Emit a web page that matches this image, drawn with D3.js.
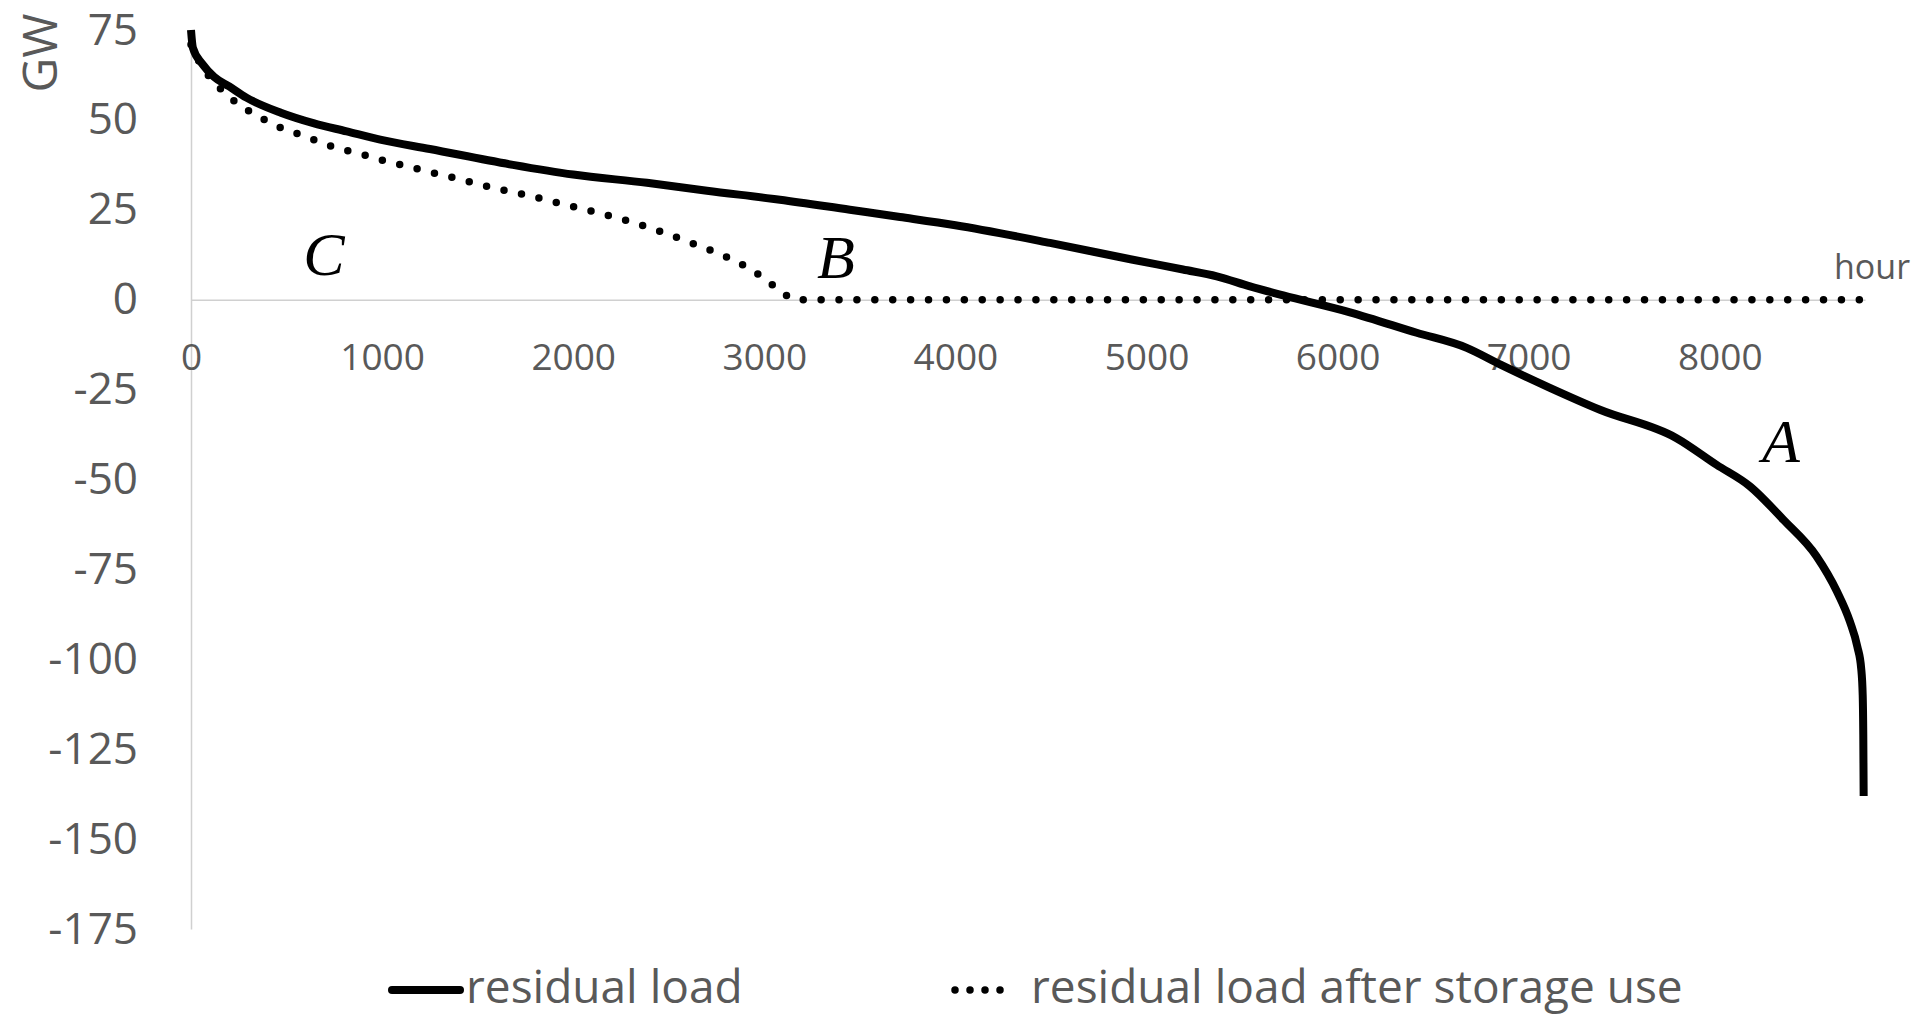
<!DOCTYPE html>
<html>
<head>
<meta charset="utf-8">
<script src="https://cdn.jsdelivr.net/npm/d3@7"></script>
<style>
  html, body { margin: 0; padding: 0; background: #ffffff; }
  svg { display: block; }
</style>
</head>
<body>
<svg id="chart" width="1917" height="1015"></svg>
<script>
// ---------- data ----------
const residualHours = [0, 10, 60, 120, 200, 290, 470, 640, 815, 990, 1250, 1685, 2000, 2386, 2700, 3082, 3448, 3710, 4000, 4495, 4929, 5191, 5368, 5542, 5716, 6065, 6414, 6676, 6850, 7111, 7373, 7774, 7983, 8158, 8333, 8507, 8612, 8681, 8720, 8740, 8748, 8751, 8753];
const residualGW    = [75, 70, 65.5, 62, 59.3, 56.2, 52, 49.1, 46.8, 44.5, 41.9, 37.5, 34.8, 32.5, 30.3, 27.8, 25, 23, 20.7, 15.8, 11.1, 8.4, 6.5, 3.7, 1.2, -3.5, -9.2, -13.4, -18, -24.5, -30.6, -38.5, -45.9, -51.9, -61.2, -71.4, -81, -89.5, -96.5, -102.5, -110, -121, -138];

const storageHours = [0, 56, 112, 169, 235, 305, 382, 460, 544, 628, 710, 797, 884, 972, 1059, 1146, 1235, 1413, 1591, 1764, 1942, 2119, 2292, 2464, 2627, 2798, 2951, 3017, 3090, 3156, 8760];
const storageGW    = [71, 64.9, 61, 57.9, 54.9, 52.4, 50.1, 48, 46.4, 44.8, 43.1, 41.7, 40.6, 39.2, 38, 36.9, 35.7, 33.4, 31, 29, 26.6, 24.3, 21.8, 18.8, 15.6, 12, 7.7, 5.1, 2.3, 0, 0];

const xTicks = [0, 1000, 2000, 3000, 4000, 5000, 6000, 7000, 8000];
const yTicks = [75, 50, 25, 0, -25, -50, -75, -100, -125, -150, -175];

const seriesNames = ["residual load", "residual load after storage use"];
const regionLabels = ["A", "B", "C"];
const regionHours = [8320, 3375, 696];
const regionGW = [-45, 6, 7];

// ---------- setup ----------
const svg = d3.select("#chart");
const font = "'Open Sans', 'Noto Sans', sans-serif";
const grey = "#595959";
const axisGrey = "#d0d0d0";
const fmt = d => String(d);   // plain hyphen-minus like the reference

svg.append("rect").attr("width", 1917).attr("height", 1015).attr("fill", "#fff");

const x = d3.scaleLinear().domain([0, 8760]).range([191, 1865]);
const y = d3.scaleLinear().domain([-175, 75]).range([929, 30]);

// y axis
const yAxis = svg.append("g")
  .attr("transform", `translate(${x(0)},0)`)
  .call(d3.axisLeft(y).tickValues(yTicks).tickSize(0).tickSizeOuter(0).tickPadding(53).tickFormat(fmt));
yAxis.select(".domain").attr("stroke", axisGrey).attr("stroke-width", 1.5);
yAxis.selectAll("text").attr("font-family", font).attr("font-size", 44).attr("fill", grey);

// x axis along zero line
const xAxis = svg.append("g")
  .attr("transform", `translate(0,${y(0)})`)
  .call(d3.axisBottom(x).tickValues(xTicks).tickSize(0).tickSizeOuter(0).tickPadding(44).tickFormat(fmt));
xAxis.select(".domain").attr("stroke", axisGrey).attr("stroke-width", 1.5);
xAxis.selectAll("text").attr("font-family", font).attr("font-size", 37).attr("fill", grey);

// axis titles
svg.append("text")
  .attr("transform", "translate(57,53) rotate(-90)")
  .attr("text-anchor", "middle")
  .attr("font-family", font).attr("font-size", 48).attr("fill", grey)
  .text("GW");

svg.append("text")
  .attr("x", 1834).attr("y", 279)
  .attr("font-family", font).attr("font-size", 34).attr("fill", grey)
  .text("hour");

// lines
const line = d3.line()
  .x(d => x(d[0]))
  .y(d => y(d[1]))
  .curve(d3.curveMonotoneX);

const storageData = storageHours.map((h, i) => [h, storageGW[i]]);
const residualData = residualHours.map((h, i) => [h, residualGW[i]]);

svg.append("path")
  .datum(storageData)
  .attr("d", line)
  .attr("fill", "none")
  .attr("stroke", "#000")
  .attr("stroke-width", 7.5)
  .attr("stroke-linecap", "round")
  .attr("stroke-dasharray", "0 17.9");

svg.append("path")
  .datum(residualData)
  .attr("d", line)
  .attr("fill", "none")
  .attr("stroke", "#000")
  .attr("stroke-width", 8)
  .attr("stroke-linejoin", "round")
  .attr("stroke-linecap", "butt");

// region letters
svg.selectAll("text.region")
  .data(regionLabels)
  .enter().append("text")
  .attr("class", "region")
  .attr("x", (d, i) => x(regionHours[i]))
  .attr("y", (d, i) => y(regionGW[i]))
  .attr("text-anchor", "middle")
  .attr("font-family", "'Liberation Serif', 'DejaVu Serif', serif")
  .attr("font-style", "italic")
  .attr("font-size", 62)
  .attr("fill", "#000")
  .text(d => d);

// legend
const legendY = 990;
svg.append("line")
  .attr("x1", 392).attr("x2", 460).attr("y1", legendY).attr("y2", legendY)
  .attr("stroke", "#000").attr("stroke-width", 8).attr("stroke-linecap", "round");
svg.append("text")
  .attr("x", 466).attr("y", 1003)
  .attr("font-family", font).attr("font-size", 46).attr("fill", grey)
  .text(seriesNames[0]);

svg.append("line")
  .attr("x1", 955).attr("x2", 1001).attr("y1", legendY).attr("y2", legendY)
  .attr("stroke", "#000").attr("stroke-width", 7.5).attr("stroke-linecap", "round")
  .attr("stroke-dasharray", "0 15");
svg.append("text")
  .attr("x", 1031).attr("y", 1003)
  .attr("font-family", font).attr("font-size", 46).attr("fill", grey)
  .text(seriesNames[1]);
</script>
</body>
</html>
